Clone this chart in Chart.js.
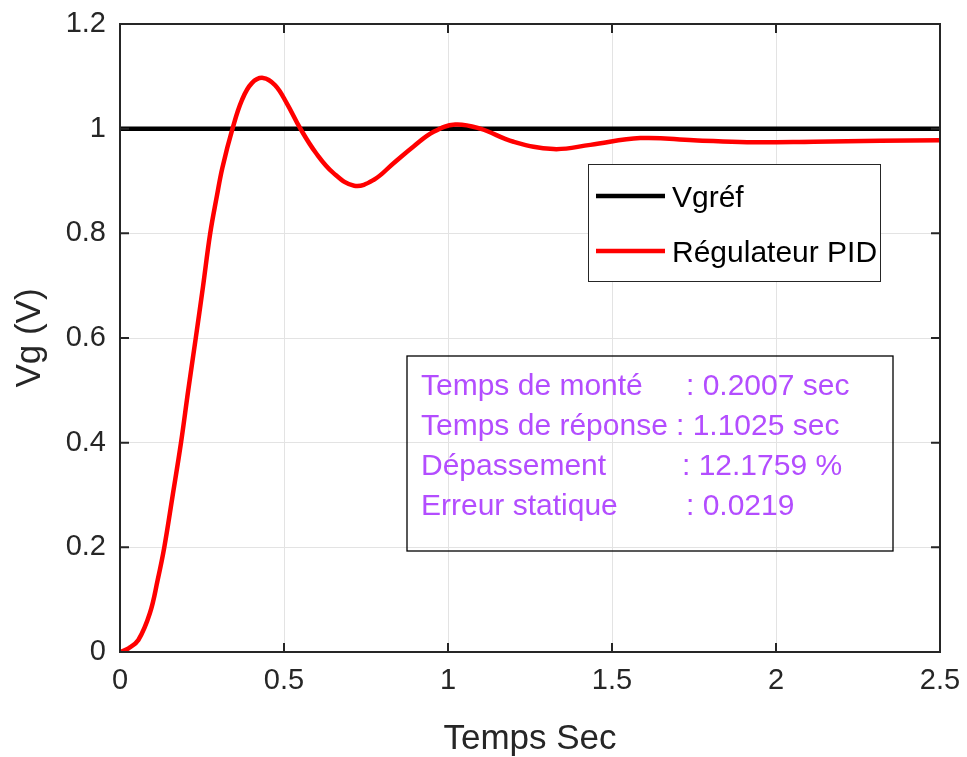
<!DOCTYPE html>
<html>
<head>
<meta charset="utf-8">
<script src="https://cdn.jsdelivr.net/npm/chart.js@4.4.0/dist/chart.umd.min.js"></script>
<style>
  html, body { margin: 0; padding: 0; background: #fff; }
  canvas { display: block; }
</style>
</head>
<body>
<canvas id="pidChart" width="967" height="757"></canvas>
<script>
// Data
const timeSec = [0, 0.026, 0.056, 0.091, 0.115, 0.135, 0.16, 0.186, 0.208, 0.231, 0.253, 0.275, 0.295, 0.312, 0.343, 0.372, 0.402, 0.436, 0.473, 0.509, 0.55, 0.598, 0.651, 0.714, 0.773, 0.834, 0.895, 0.956, 1.022, 1.098, 1.2, 1.322, 1.434, 1.586, 1.749, 1.912, 2.115, 2.318, 2.5];
const vgPID = [0, 0.007, 0.023, 0.074, 0.138, 0.2, 0.297, 0.4, 0.5, 0.6, 0.698, 0.8, 0.87, 0.925, 1.0, 1.055, 1.087, 1.097, 1.083, 1.048, 1.0, 0.953, 0.915, 0.891, 0.902, 0.934, 0.966, 0.994, 1.008, 1.0, 0.975, 0.961, 0.969, 0.982, 0.978, 0.974, 0.975, 0.977, 0.978];
const refTime = [0, 2.5];
const vgRef = [1, 1];
const seriesLabels = ['Vgréf', 'Régulateur PID'];
const infoLabels = ['Temps de monté', 'Temps de réponse', 'Dépassement', 'Erreur statique'];
const infoValues = [': 0.2007 sec', ': 1.1025 sec', ': 12.1759 %', ': 0.0219'];

const FONT = '"Liberation Sans", Arial, Helvetica, sans-serif';
const AXIS_COLOR = '#262626';
const INFO_COLOR = '#b34dff';
const valueX = [686, 676, 682, 686]; // where the ": value" part starts on each line

const toPoints = (xs, ys) => xs.map((x, i) => ({ x: x, y: ys[i] }));
const fmt = v => String(Number(v.toFixed(2)));

// keep the plot box fixed: drop the extra room chart.js keeps for edge labels
const fixBox = (s, w, h) => {
  if (w !== undefined) s.width = w;
  if (h !== undefined) s.height = h;
  s.paddingTop = 0; s.paddingBottom = 0;
  s.paddingLeft = 0; s.paddingRight = 0;
};

// axes box with inward ticks, legend and info box, drawn over the data
const overlayPlugin = {
  id: 'overlay',
  afterDatasetsDraw(chart) {
    const ctx = chart.ctx;
    const { left, right, top, bottom } = chart.chartArea;
    const xs = chart.scales.x, ys = chart.scales.y;
    ctx.save();

    // box + ticks
    ctx.strokeStyle = AXIS_COLOR;
    ctx.lineWidth = 2;
    ctx.strokeRect(left, top, right - left, bottom - top);
    ctx.beginPath();
    xs.ticks.forEach(t => {
      const px = xs.getPixelForValue(t.value);
      ctx.moveTo(px, bottom); ctx.lineTo(px, bottom - 9);
      ctx.moveTo(px, top); ctx.lineTo(px, top + 9);
    });
    ys.ticks.forEach(t => {
      const py = ys.getPixelForValue(t.value);
      ctx.moveTo(left, py); ctx.lineTo(left + 9, py);
      ctx.moveTo(right, py); ctx.lineTo(right - 9, py);
    });
    ctx.stroke();

    // legend
    ctx.fillStyle = '#fff';
    ctx.fillRect(588.5, 164.5, 292, 117);
    ctx.strokeStyle = AXIS_COLOR;
    ctx.lineWidth = 1;
    ctx.strokeRect(588.5, 164.5, 292, 117);
    ctx.font = '30px ' + FONT;
    ctx.textBaseline = 'alphabetic';
    chart.data.datasets.forEach((ds, i) => {
      const cy = 196 + i * 55;
      ctx.strokeStyle = ds.borderColor;
      ctx.lineWidth = ds.borderWidth;
      ctx.beginPath();
      ctx.moveTo(596, cy); ctx.lineTo(665, cy);
      ctx.stroke();
      ctx.fillStyle = '#000';
      ctx.fillText(ds.label, 672, cy + 11);
    });

    // info box
    ctx.strokeStyle = '#000';
    ctx.lineWidth = 1.3;
    ctx.strokeRect(407, 356, 486, 195);
    ctx.fillStyle = INFO_COLOR;
    infoLabels.forEach((lbl, i) => {
      const by = 395 + i * 40;
      ctx.fillText(lbl, 421, by);
      ctx.fillText(infoValues[i], valueX[i], by);
    });
    ctx.restore();
  }
};

new Chart(document.getElementById('pidChart').getContext('2d'), {
  type: 'line',
  data: {
    datasets: [
      {
        label: seriesLabels[0],
        data: toPoints(refTime, vgRef),
        borderColor: '#000000',
        borderWidth: 4.5,
        pointRadius: 0,
        fill: false,
        order: 2
      },
      {
        label: seriesLabels[1],
        data: toPoints(timeSec, vgPID),
        borderColor: '#ff0000',
        borderWidth: 4.5,
        pointRadius: 0,
        fill: false,
        tension: 0.4,
        order: 1
      }
    ]
  },
  options: {
    responsive: false,
    animation: false,
    devicePixelRatio: 1,
    layout: { padding: { left: 0, top: 24, right: 27, bottom: 0 } },
    scales: {
      x: {
        type: 'linear',
        min: 0,
        max: 2.5,
        afterFit: s => fixBox(s, undefined, 105),
        ticks: {
          stepSize: 0.5,
          callback: fmt,
          color: AXIS_COLOR,
          padding: 12,
          maxRotation: 0,
          font: { family: FONT, size: 29 }
        },
        grid: { color: '#e3e3e3', lineWidth: 1, drawTicks: false },
        border: { display: false },
        title: {
          display: true,
          text: 'Temps Sec',
          color: AXIS_COLOR,
          padding: 0,
          font: { family: FONT, size: 35, lineHeight: 1 }
        }
      },
      y: {
        min: 0,
        max: 1.2,
        afterFit: s => fixBox(s, 120, undefined),
        ticks: {
          stepSize: 0.2,
          callback: fmt,
          color: AXIS_COLOR,
          padding: 14,
          font: { family: FONT, size: 29 }
        },
        grid: { color: '#e3e3e3', lineWidth: 1, drawTicks: false },
        border: { display: false },
        title: {
          display: true,
          text: 'Vg (V)',
          color: AXIS_COLOR,
          padding: { top: 13, bottom: 0 },
          font: { family: FONT, size: 35, lineHeight: 1 }
        }
      }
    },
    plugins: {
      legend: { display: false },
      tooltip: { enabled: false }
    }
  },
  plugins: [overlayPlugin]
});
</script>
</body>
</html>
